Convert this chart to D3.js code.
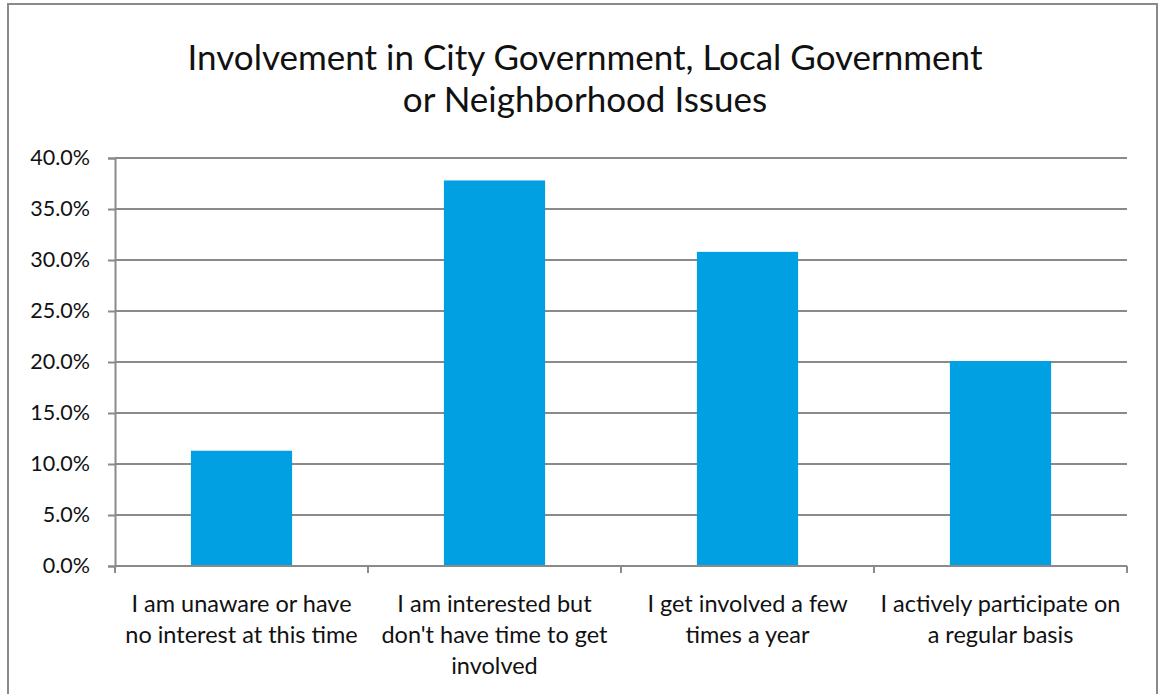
<!DOCTYPE html>
<html><head><meta charset="utf-8">
<script src="https://cdn.jsdelivr.net/npm/d3@7"></script>
<style>body{margin:0;background:#fff;} svg{display:block;}</style>
</head><body>
<svg id="chart" width="1160" height="694"></svg>
<script>
const categories = [
  ["I am unaware or have", "no interest at this time"],
  ["I am interested but", "don't have time to get", "involved"],
  ["I get involved a few", "times a year"],
  ["I actively participate on", "a regular basis"]
];
const values = [11.3, 37.8, 30.8, 20.1];
const yTicks = [0, 5, 10, 15, 20, 25, 30, 35, 40];
const titleLines = ["Involvement in City Government, Local Government", "or Neighborhood Issues"];

const FONT = "Lato, 'Open Sans', sans-serif";
const svg = d3.select("#chart");
const m = {left: 115, right: 1127, top: 158, bottom: 566};

svg.append("rect").attr("x", 8).attr("y", 4).attr("width", 1149).attr("height", 720)
  .attr("fill", "#fff").attr("stroke", "#8a8a8a").attr("stroke-width", 2);

const t = svg.append("text").attr("text-anchor", "middle")
  .style("font-family", FONT).style("font-size", "35px").attr("fill", "#111");
titleLines.forEach((l, i) => t.append("tspan").attr("x", 585).attr("y", 70 + i * 42).text(l));

const x = d3.scaleBand().domain(d3.range(categories.length)).range([m.left, m.right]).paddingInner(0.6).paddingOuter(0.3);
const xOuter = d3.scaleBand().domain(d3.range(categories.length)).range([m.left, m.right]);
const y = d3.scaleLinear().domain([0, 40]).range([m.bottom, m.top]);

// gridlines
svg.append("g").selectAll("line").data(yTicks.filter(d => d > 0)).join("line")
  .attr("x1", m.left).attr("x2", m.right).attr("y1", d => y(d)).attr("y2", d => y(d))
  .attr("stroke", "#8a8a8a").attr("stroke-width", 2);

// y axis
const yAxis = d3.axisLeft(y).tickValues(yTicks).tickFormat(d => d.toFixed(1) + "%").tickSize(7).tickPadding(18);
const gy = svg.append("g").attr("transform", `translate(${m.left},0)`).call(yAxis);
gy.select(".domain").attr("stroke", "#8a8a8a").attr("stroke-width", 2);
gy.selectAll(".tick line").attr("stroke", "#8a8a8a").attr("stroke-width", 2);
gy.selectAll("text").style("font-family", FONT).style("font-size", "21.5px").attr("fill", "#111");

// bars
svg.append("g").selectAll("rect").data(values).join("rect")
  .attr("x", (d, i) => x(i)).attr("width", x.bandwidth())
  .attr("y", d => y(d)).attr("height", d => y(0) - y(d))
  .attr("fill", "#00A0E3");

// x axis
const gx = svg.append("g").attr("transform", `translate(0,${m.bottom})`);
gx.append("line").attr("x1", m.left).attr("x2", m.right).attr("y1", 0).attr("y2", 0)
  .attr("stroke", "#8a8a8a").attr("stroke-width", 2);
gx.selectAll(".tk").data(d3.range(categories.length + 1)).join("line").attr("class", "tk")
  .attr("x1", i => m.left + i * xOuter.step()).attr("x2", i => m.left + i * xOuter.step())
  .attr("y1", 0).attr("y2", 7).attr("stroke", "#8a8a8a").attr("stroke-width", 2);
categories.forEach((lines, i) => {
  const tx = gx.append("text").attr("text-anchor", "middle")
    .style("font-family", FONT).style("font-size", "23.5px").attr("fill", "#111");
  lines.forEach((l, j) => tx.append("tspan").attr("x", xOuter(i) + xOuter.bandwidth() / 2).attr("y", 46 + j * 31).text(l));
});
</script>
</body></html>
